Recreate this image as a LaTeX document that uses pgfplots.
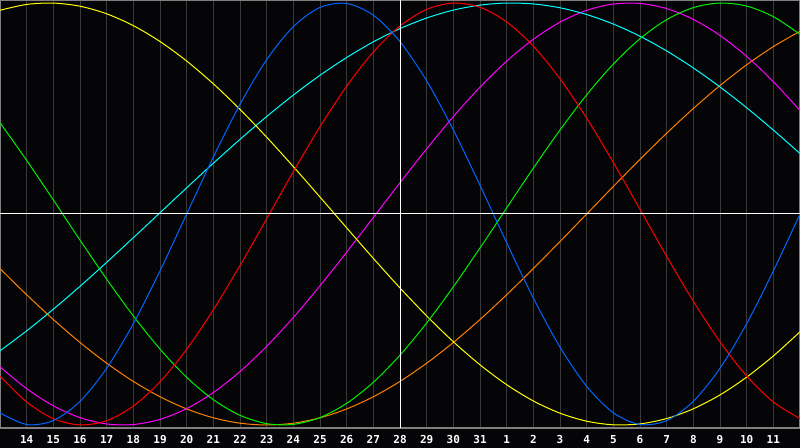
\documentclass[border=0pt]{standalone}
\usepackage{fontspec}
\usepackage{pgfplots}
\usepackage{pgfplotstable}
\pgfplotsset{compat=1.18}
\newfontfamily\labelfont{DejaVu Sans Mono}

\definecolor{bg}{RGB}{5,5,8}
\definecolor{gridc}{RGB}{58,58,58}
\definecolor{framec}{RGB}{128,128,128}
\definecolor{cblue}{RGB}{0,102,255}
\definecolor{cred}{RGB}{255,0,0}
\definecolor{cgreen}{RGB}{0,240,0}
\definecolor{cyellow}{RGB}{255,255,0}
\definecolor{ccyan}{RGB}{0,255,255}
\definecolor{cmagenta}{RGB}{255,0,255}
\definecolor{corange}{RGB}{255,128,0}

% day index t: 0 = left edge, 15 = today (28)
\pgfplotstableread{
t  blue    red     green   yellow  cyan    magenta orange
0  -0.9422 -0.7679  0.4327  0.9656 -0.6482 -0.7243 -0.2588
1  -0.9977 -0.8910  0.2543  0.9932 -0.5537 -0.8280 -0.3827
2  -0.9791 -0.9697  0.0666  0.9996 -0.4513 -0.9090 -0.5000
3  -0.8879 -0.9997 -0.1234  0.9847 -0.3427 -0.9652 -0.6088
4  -0.7311 -0.9797 -0.3090  0.9488 -0.2292 -0.9951 -0.7071
5  -0.5196 -0.9105 -0.4834  0.8927 -0.1123 -0.9978 -0.7934
6  -0.2698 -0.7956 -0.6403  0.8175  0.0059 -0.9733 -0.8660
7   0.0000 -0.6408 -0.7742  0.7250  0.1241 -0.9223 -0.9239
8   0.2698 -0.4540 -0.8800  0.6170  0.2406 -0.8462 -0.9659
9   0.5196 -0.2443 -0.9540  0.4958  0.3537 -0.7468 -0.9914
10  0.7311 -0.0225 -0.9935  0.3641  0.4619 -0.6270 -1.0000
11  0.8879  0.2006 -0.9971  0.2246  0.5636 -0.4905 -0.9914
12  0.9791  0.4136 -0.9647  0.0804  0.6574 -0.3402 -0.9659
13  0.9977  0.6058 -0.8974 -0.0657  0.7416 -0.1809 -0.9239
14  0.9422  0.7679 -0.7978 -0.2103  0.8159 -0.0166 -0.8660
15  0.8169  0.8910 -0.6691 -0.3504  0.8786  0.1483 -0.7934
16  0.6311  0.9697 -0.5164 -0.4829  0.9289  0.3090 -0.7071
17  0.3984  0.9997 -0.3450 -0.6054  0.9662  0.4614 -0.6088
18  0.1362  0.9797 -0.1611 -0.7147  0.9899  0.6011 -0.5000
19 -0.1362  0.9105  0.0286 -0.8090  0.9997  0.7243 -0.3827
20 -0.3984  0.7956  0.2173 -0.8860  0.9955  0.8280 -0.2588
21 -0.6311  0.6408  0.3980 -0.9440  0.9773  0.9090 -0.1305
22 -0.8169  0.4540  0.5646 -0.9820  0.9454  0.9652  0.0000
23 -0.9422  0.2443  0.7105 -0.9990  0.9002  0.9951  0.1305
24 -0.9977  0.0225  0.8308 -0.9948  0.8425  0.9978  0.2588
25 -0.9791 -0.2006  0.9211 -0.9693  0.7727  0.9733  0.3827
26 -0.8879 -0.4136  0.9781 -0.9232  0.6922  0.9223  0.5000
27 -0.7311 -0.6058  0.9998 -0.8574  0.6020  0.8462  0.6088
28 -0.5196 -0.7679  0.9854 -0.7731  0.5035  0.7468  0.7071
29 -0.2698 -0.8910  0.9353 -0.6727  0.3977  0.6270  0.7934
30  0.0000 -0.9697  0.8514 -0.5583  0.2864  0.4905  0.8660
}\cycles

\begin{document}
\begin{tikzpicture}
\fill[bg] (0,0) rectangle (800bp,448bp);
\begin{axis}[
    at={(0,20bp)}, anchor=south west,
    scale only axis,
    width=800bp, height=428bp,
    xmin=0, xmax=30,
    ymin=-1.0142, ymax=1.0142,
    axis line style={draw=framec, line width=1.2bp},
    xtick={1,...,29},
    xticklabels={14,15,16,17,18,19,20,21,22,23,24,25,26,27,28,29,30,31,1,2,3,4,5,6,7,8,9,10,11},
    ytick=\empty,
    major tick length=0pt,
    xmajorgrids,
    major grid style={draw=gridc, line width=1bp},
    xticklabel style={font=\labelfont\bfseries\fontsize{11bp}{13bp}\selectfont, text=white, yshift=-3.5bp},
    every axis plot/.append style={line width=1bp, smooth, no markers},
]
\addplot[corange]  table[x=t, y=orange]  {\cycles};
\addplot[cmagenta] table[x=t, y=magenta] {\cycles};
\addplot[ccyan]    table[x=t, y=cyan]    {\cycles};
\addplot[cyellow]  table[x=t, y=yellow]  {\cycles};
\addplot[cgreen]   table[x=t, y=green]   {\cycles};
\addplot[cred]     table[x=t, y=red]     {\cycles};
\addplot[cblue]    table[x=t, y=blue]    {\cycles};
% today and the zero line
\addplot[white, sharp plot] coordinates {(15,-1.0142) (15,1.0142)};
\addplot[white, sharp plot] coordinates {(0,0) (30,0)};
\end{axis}
\pgfresetboundingbox
\useasboundingbox (0,0) rectangle (800bp,448bp);
\end{tikzpicture}
\end{document}
